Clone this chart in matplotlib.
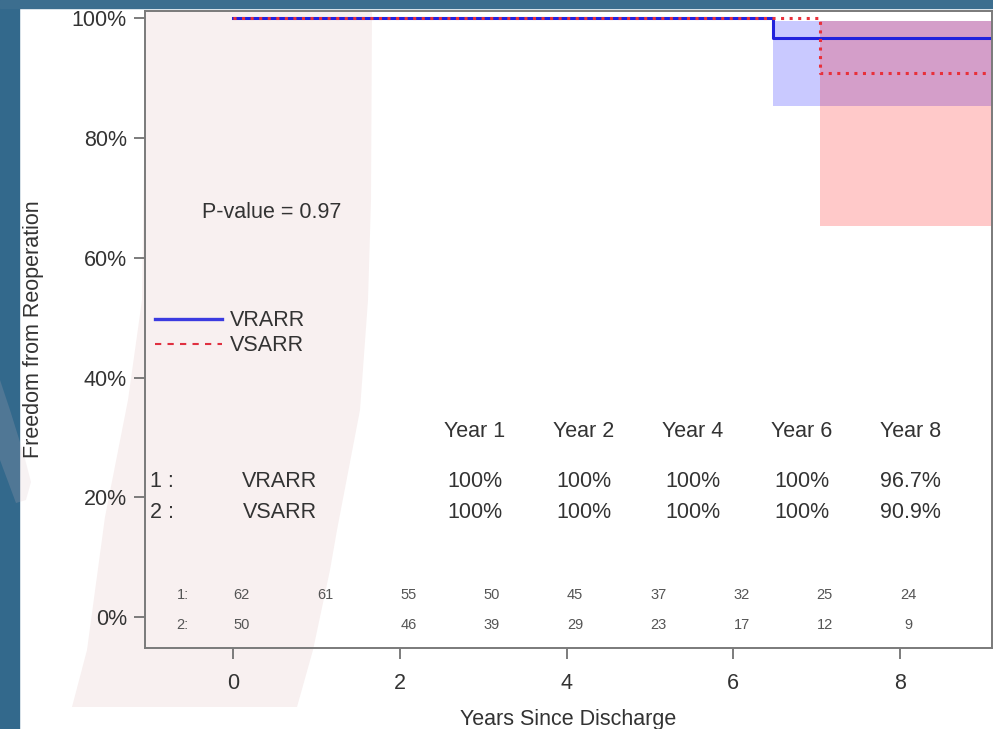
import numpy as np
import matplotlib
matplotlib.use('Agg')
import matplotlib.pyplot as plt
from matplotlib.patches import Rectangle, Polygon
from matplotlib.ticker import FuncFormatter

plt.rcParams['font.family'] = ['Liberation Sans', 'DejaVu Sans']

# Kaplan-Meier estimates, freedom from reoperation (%), by years since discharge
vrarr_t = [0, 6.48, 9.1]
vrarr_s = [100, 96.7, 96.7]
vrarr_lo = [100, 85.4, 85.4]
vrarr_hi = [100, 99.6, 99.6]

vsarr_t = [0, 7.04, 9.1]
vsarr_s = [100, 90.9, 90.9]
vsarr_lo = [100, 65.3, 65.3]
vsarr_hi = [100, 99.6, 99.6]

# survival summary table
table_years = [1, 2, 4, 6, 8]
groups = ['VRARR', 'VSARR']

# number at risk
risk_t = [0, 1, 2, 3, 4, 5, 6, 7, 8]
vrarr_risk = [62, 61, 55, 50, 45, 37, 32, 25, 24]
vsarr_risk = [50, None, 46, 39, 29, 23, 17, 12, 9]

W, H = 993, 729
TXT = '#333333'
FS = 15.5


def px(x, y):
    # pixel position measured from the top-left corner -> figure fraction
    return (x / W, 1 - y / H)


def surv_at(t, s, year):
    i = np.searchsorted(t, year, side='right') - 1
    return s[i]


fig = plt.figure(figsize=(W / 100, H / 100), dpi=100)
fig.patch.set_facecolor('white')

# slide decoration: blue frame and the faint swoosh behind the plot
fig.patches.append(Rectangle((0, 0), 19 / W, 1, transform=fig.transFigure,
                             color='#33698c', zorder=-5))
fig.patches.append(Rectangle(px(0, 8), 1, 8 / H, transform=fig.transFigure,
                             color='#3c6e8f', zorder=-5))
band = [(146, 10), (372, 10), (371, 200), (368, 300), (360, 410), (337, 530),
        (330, 570), (313, 650), (297, 707), (72, 707), (87, 650), (105, 517),
        (128, 400), (142, 300), (145, 100)]
fig.patches.append(Polygon([px(*p) for p in band], closed=True,
                           transform=fig.transFigure, color='#f8f0f0',
                           lw=0, zorder=-4))
tail = [(0, 380), (10, 410), (24, 455), (31, 482), (26, 500), (16, 503), (0, 460)]
fig.patches.append(Polygon([px(*p) for p in tail], closed=True,
                           transform=fig.transFigure, color='#d8b8c0',
                           alpha=0.18, lw=0, zorder=-3))

ax = fig.add_axes([145 / W, 1 - 648 / H, (991.5 - 145) / W, (648 - 11) / H])
ax.patch.set_alpha(0)

# confidence bands
ax.fill_between(vrarr_t, vrarr_lo, vrarr_hi, step='post', color='#0000ff',
                alpha=0.21, lw=0)
ax.fill_between(vsarr_t, vsarr_lo, vsarr_hi, step='post', color='#ff0000',
                alpha=0.21, lw=0)

# survival curves
ax.step(vrarr_t, vrarr_s, where='post', color='#2222dd', lw=2.2,
        label='VRARR')
ax.step(vsarr_t, vsarr_s, where='post', color='#e8303a', lw=2.2,
        linestyle=(0, (1, 1.8)), label='VSARR')

ax.set_xlim(-1.06, 9.1)
ax.set_ylim(-5.2, 101.25)
ax.set_xticks([0, 2, 4, 6, 8])
ax.set_yticks([0, 20, 40, 60, 80, 100])
ax.yaxis.set_major_formatter(FuncFormatter(lambda v, p: f'{v:.0f}%'))
ax.tick_params(length=8, width=1.2, color='#666666', labelsize=FS,
               labelcolor=TXT)
ax.tick_params(axis='y', pad=5)
ax.tick_params(axis='x', pad=10)
for sp in ax.spines.values():
    sp.set_color('#7a7a7a')
    sp.set_linewidth(1.4)

ax.set_ylabel('Freedom from Reoperation', fontsize=FS, color=TXT, va='center')
ax.yaxis.set_label_coords(-0.132, 0.5)
ax.set_xlabel('Years Since Discharge', fontsize=FS, color=TXT, va='center')
ax.xaxis.set_label_coords(0.5, -0.1115)

# legend with a plain dashed handle for VSARR
h_blue = plt.Line2D([], [], color='#3b3be0', lw=2.4)
h_red = plt.Line2D([], [], color='#e03040', lw=1.5, linestyle=(0, (3, 3)))
ax.legend([h_blue, h_red], groups, loc='upper left',
          bbox_to_anchor=(0.012, 0.530), frameon=False, fontsize=FS,
          handlelength=3.1, handletextpad=0.35, labelspacing=0.17,
          borderpad=0, borderaxespad=0, labelcolor=TXT)

ax.text(-0.37, 67.5, 'P-value = 0.97', fontsize=FS, color=TXT, va='center')

# survival table
col_x = [2.90 + 1.307 * i for i in range(len(table_years))]
for x, yr in zip(col_x, table_years):
    ax.text(x, 30.9, f'Year {yr}', fontsize=FS, color=TXT, ha='center',
            va='center')
for row, (g, t, s, y) in enumerate(zip(groups, [vrarr_t, vsarr_t],
                                        [vrarr_s, vsarr_s], [22.6, 17.5])):
    ax.text(-0.995, y, f'{row + 1} :', fontsize=FS, color=TXT, va='center')
    ax.text(0.56, y, g, fontsize=FS, color=TXT, ha='center', va='center')
    for x, yr in zip(col_x, table_years):
        ax.text(x, y, f'{surv_at(t, s, yr):g}%', fontsize=FS, color=TXT,
                ha='center', va='center')

# numbers at risk
for row, (counts, y) in enumerate(zip([vrarr_risk, vsarr_risk], [3.6, -1.3])):
    ax.text(-0.61, y, f'{row + 1}:', fontsize=10.5, color='#555555',
            ha='center', va='center')
    for t, n in zip(risk_t, counts):
        if n is None:
            continue
        ax.text(t + 0.1, y, str(n), fontsize=10.5, color='#555555',
                ha='center', va='center')

fig.savefig('out.png', dpi=100)
